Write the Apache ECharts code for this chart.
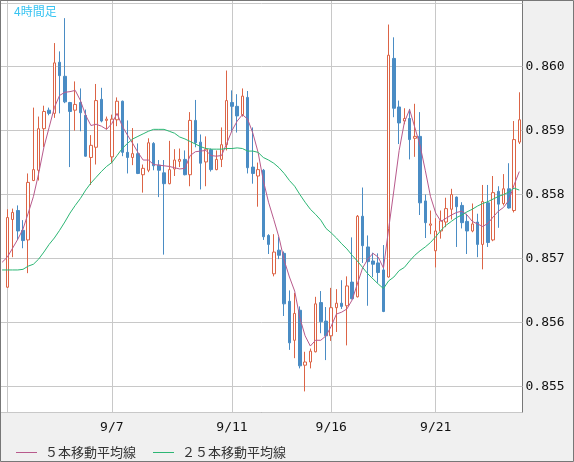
<!DOCTYPE html>
<html><head><meta charset="utf-8">
<script src="https://cdn.jsdelivr.net/npm/echarts@6/dist/echarts.min.js"></script>
<style>html,body{margin:0;padding:0;background:#f0f0f0}#c{width:574px;height:462px}</style>
</head><body><div id="c"></div>
<script>
// 4-hour bars (visible candles, left to right)
const opens = [0.85655,0.85761,0.85775,0.85744,0.85729,0.85822,0.85838,0.85903,0.85932,0.85927,
0.86007,0.85985,0.85944,0.85932,0.85944,0.85924,0.85858,0.85874,0.85949,0.85916,
0.85859,0.85917,0.85946,0.85866,0.85858,0.85864,0.85831,0.85838,0.85880,0.85846,
0.85834,0.85817,0.85840,0.85852,0.85855,0.85831,0.85916,0.85882,0.85851,0.85870,
0.85839,0.85855,0.85878,0.85944,0.85938,0.85925,0.85952,0.85843,0.85829,0.85838,
0.85736,0.85676,0.85713,0.85708,0.85633,0.85572,0.85619,0.85533,0.85538,0.85554,
0.85631,0.85602,0.85579,0.85623,0.85630,0.85626,0.85663,0.85640,0.85766,0.85718,
0.85696,0.85693,0.85682,0.85671,0.86013,0.85937,0.85915,0.85919,0.85888,0.85891,
0.85790,0.85752,0.85712,0.85743,0.85757,0.85777,0.85796,0.85783,0.85758,0.85743,
0.85757,0.85722,0.85787,0.85729,0.85805,0.85786,0.85809,0.85775,0.85882];
const closes = [0.85764,0.85772,0.85743,0.85728,0.85819,0.85839,0.85903,0.85930,0.85927,0.86006,
0.85986,0.85945,0.85930,0.85941,0.85928,0.85860,0.85877,0.85947,0.85915,0.85918,
0.85918,0.85946,0.85866,0.85858,0.85864,0.85833,0.85841,0.85881,0.85845,0.85838,
0.85817,0.85839,0.85854,0.85855,0.85831,0.85916,0.85881,0.85849,0.85871,0.85839,
0.85855,0.85878,0.85947,0.85938,0.85923,0.85954,0.85842,0.85833,0.85839,0.85734,
0.85722,0.85710,0.85705,0.85629,0.85568,0.85614,0.85532,0.85538,0.85555,0.85629,
0.85601,0.85579,0.85623,0.85630,0.85625,0.85657,0.85637,0.85766,0.85720,0.85695,
0.85691,0.85678,0.85617,0.86018,0.85935,0.85912,0.85919,0.85886,0.85891,0.85787,
0.85756,0.85754,0.85743,0.85759,0.85778,0.85800,0.85781,0.85756,0.85743,0.85754,
0.85722,0.85789,0.85725,0.85803,0.85785,0.85809,0.85779,0.85886,0.85917];
const lows = [0.85654,0.85702,0.85729,0.85716,0.85677,0.85821,0.85822,0.85874,0.85924,0.85920,
0.85927,0.85943,0.85843,0.85900,0.85899,0.85859,0.85815,0.85847,0.85913,0.85902,
0.85849,0.85907,0.85860,0.85833,0.85846,0.85832,0.85803,0.85835,0.85838,0.85796,
0.85706,0.85816,0.85829,0.85843,0.85830,0.85813,0.85874,0.85808,0.85813,0.85836,
0.85838,0.85843,0.85869,0.85898,0.85897,0.85922,0.85833,0.85817,0.85781,0.85729,
0.85707,0.85672,0.85699,0.85610,0.85557,0.85544,0.85528,0.85492,0.85528,0.85553,
0.85583,0.85541,0.85571,0.85585,0.85621,0.85564,0.85636,0.85639,0.85693,0.85626,
0.85671,0.85662,0.85616,0.85670,0.85921,0.85879,0.85910,0.85855,0.85859,0.85768,
0.85732,0.85738,0.85686,0.85731,0.85749,0.85761,0.85718,0.85747,0.85707,0.85741,
0.85702,0.85683,0.85718,0.85727,0.85748,0.85783,0.85778,0.85772,0.85879];
const highs = [0.85777,0.85778,0.85783,0.85760,0.85833,0.85936,0.85922,0.85939,0.85936,0.86037,
0.86024,0.86076,0.85945,0.85977,0.85966,0.85933,0.85893,0.85973,0.85967,0.85922,
0.85925,0.85952,0.85947,0.85916,0.85904,0.85880,0.85847,0.85888,0.85882,0.85854,
0.85854,0.85884,0.85871,0.85872,0.85869,0.85929,0.85948,0.85894,0.85891,0.85872,
0.85869,0.85905,0.85994,0.85963,0.85957,0.85966,0.85962,0.85905,0.85850,0.85840,
0.85738,0.85738,0.85734,0.85711,0.85650,0.85646,0.85625,0.85554,0.85559,0.85640,
0.85649,0.85624,0.85654,0.85652,0.85666,0.85672,0.85733,0.85768,0.85811,0.85736,
0.85709,0.85708,0.85721,0.86066,0.86046,0.85947,0.85935,0.85934,0.85942,0.85929,
0.85800,0.85775,0.85763,0.85775,0.85795,0.85809,0.85797,0.85788,0.85770,0.85786,
0.85770,0.85815,0.85815,0.85829,0.85813,0.85832,0.85849,0.85915,0.85960];
// moving averages, one value per bar slot (slot 0 is the bar just left of the view)
const ma5 = [0.85694,0.85702,0.85716,0.85730,0.85746,0.85771,0.85797,0.85833,0.85874,0.85905,
0.85936,0.85955,0.85960,0.85961,0.85963,0.85947,0.85924,0.85908,0.85910,0.85907,
0.85902,0.85911,0.85927,0.85907,0.85893,0.85880,0.85866,0.85854,0.85854,0.85847,
0.85846,0.85845,0.85844,0.85842,0.85840,0.85841,0.85861,0.85867,0.85868,0.85869,
0.85861,0.85860,0.85861,0.85880,0.85900,0.85915,0.85925,0.85918,0.85896,0.85866,
0.85822,0.85788,0.85761,0.85733,0.85697,0.85671,0.85649,0.85607,0.85579,0.85563,
0.85572,0.85572,0.85579,0.85594,0.85613,0.85616,0.85621,0.85635,0.85660,0.85685,
0.85699,0.85708,0.85702,0.85685,0.85747,0.85807,0.85869,0.85913,0.85933,0.85905,
0.85877,0.85838,0.85797,0.85771,0.85758,0.85763,0.85768,0.85772,0.85774,0.85768,
0.85758,0.85754,0.85750,0.85755,0.85765,0.85774,0.85780,0.85791,0.85815,0.85836];
const ma25 = [0.85682,0.85682,0.85682,0.85682,0.85683,0.85688,0.85691,0.85699,0.85710,0.85722,
0.85732,0.85744,0.85757,0.85771,0.85783,0.85794,0.85807,0.85818,0.85827,0.85836,
0.85844,0.85850,0.85861,0.85872,0.85880,0.85887,0.85891,0.85895,0.85899,0.85902,
0.85902,0.85902,0.85899,0.85896,0.85890,0.85887,0.85883,0.85879,0.85875,0.85872,
0.85871,0.85871,0.85871,0.85872,0.85872,0.85873,0.85872,0.85868,0.85868,0.85866,
0.85858,0.85854,0.85849,0.85842,0.85833,0.85822,0.85813,0.85800,0.85788,0.85777,
0.85769,0.85760,0.85747,0.85740,0.85732,0.85723,0.85715,0.85705,0.85696,0.85686,
0.85676,0.85668,0.85660,0.85653,0.85665,0.85671,0.85681,0.85686,0.85696,0.85705,
0.85712,0.85718,0.85725,0.85734,0.85744,0.85752,0.85758,0.85764,0.85768,0.85773,
0.85777,0.85782,0.85786,0.85789,0.85793,0.85797,0.85800,0.85804,0.85810,0.85807];
// date grid lines: bar slot index and label
const tickIndex = [1, 21, 44, 63, 83];
const tickLabels = ['', '9/7', '9/11', '9/16', '9/21'];
const titleText = '4時間足';
const seriesNames = ['５本移動平均線', '２５本移動平均線'];

const categories = ma5.map((_, i) => 'bar' + i);
const candles = ['-'].concat(opens.map((o, i) => [o, closes[i], lows[i], highs[i]]));

const Y_MIN = 0.85459, Y_MAX = 0.861036;
const mono = '"DejaVu Sans Mono", monospace';
const jp = '"Noto Sans CJK JP", sans-serif';

const chart = echarts.init(document.getElementById('c'), null, {renderer: 'canvas'});
const legendCommon = {
  top: 446, icon: 'rect', itemWidth: 21, itemHeight: 1, padding: 0,
  textStyle: {fontSize: 13, fontFamily: jp, color: '#333', padding: [0, 0, 0, 3]}
};
chart.setOption({
  animation: false,
  backgroundColor: '#f0f0f0',
  title: {text: titleText, left: 14, top: 5, padding: 0,
    textStyle: {fontSize: 12, fontWeight: 'normal', color: '#38c4f2', fontFamily: jp}},
  legend: [
    Object.assign({left: 16, data: [seriesNames[0]]}, legendCommon),
    Object.assign({left: 153, data: [seriesNames[1]]}, legendCommon)
  ],
  grid: [
    {left: 0.5, top: 0.5, right: 51.5, bottom: 49.5, show: true, backgroundColor: '#ffffff',
     borderColor: '#777777', borderWidth: 1},
    {left: 2.1, top: 0.5, right: 54.7, bottom: 49.5}
  ],
  xAxis: [
    {gridIndex: 0, type: 'value', show: false, min: 0, max: 1},
    {gridIndex: 1, type: 'category', data: categories, boundaryGap: false,
     axisLine: {show: false}, axisTick: {show: false},
     splitLine: {show: true, interval: (i) => tickIndex.includes(i), lineStyle: {color: '#c8c8c8', width: 1}},
     axisLabel: {interval: (i) => tickIndex.includes(i), margin: 9,
       formatter: (v, i) => tickLabels[tickIndex.indexOf(i)] || '',
       fontFamily: mono, fontSize: 13, color: '#111'}}
  ],
  yAxis: [
    {gridIndex: 0, type: 'value', position: 'right', min: Y_MIN, max: Y_MAX, splitNumber: 6,
     axisLine: {show: false}, axisTick: {show: false},
     splitLine: {show: true, lineStyle: {color: '#c8c8c8', width: 1}},
     axisLabel: {margin: 3, fontFamily: mono, fontSize: 13, color: '#111',
       showMinLabel: false, showMaxLabel: false,
       formatter: (v) => (v > 0.8549 && v < 0.8605) ? v.toFixed(3) : ''}},
    {gridIndex: 1, type: 'value', min: Y_MIN, max: Y_MAX, show: false}
  ],
  graphic: [{type: 'rect', silent: true, z: 100,
    shape: {x: 0.5, y: 0.5, width: 573, height: 461},
    style: {fill: 'none', stroke: '#777777', lineWidth: 1}}],
  series: [
    {type: 'candlestick', xAxisIndex: 1, yAxisIndex: 1, data: candles, barWidth: 3, clip: false,
     itemStyle: {color: '#ffffff', color0: '#4a8cc4', borderColor: '#dc6446', borderColor0: '#4a8cc4', borderWidth: 1}},
    {name: seriesNames[0], type: 'line', xAxisIndex: 1, yAxisIndex: 1, data: ma5, symbol: 'none',
     color: '#b85a8c', lineStyle: {width: 1}},
    {name: seriesNames[1], type: 'line', xAxisIndex: 1, yAxisIndex: 1, data: ma25, symbol: 'none',
     color: '#2cb674', lineStyle: {width: 1}}
  ]
});
</script></body></html>
